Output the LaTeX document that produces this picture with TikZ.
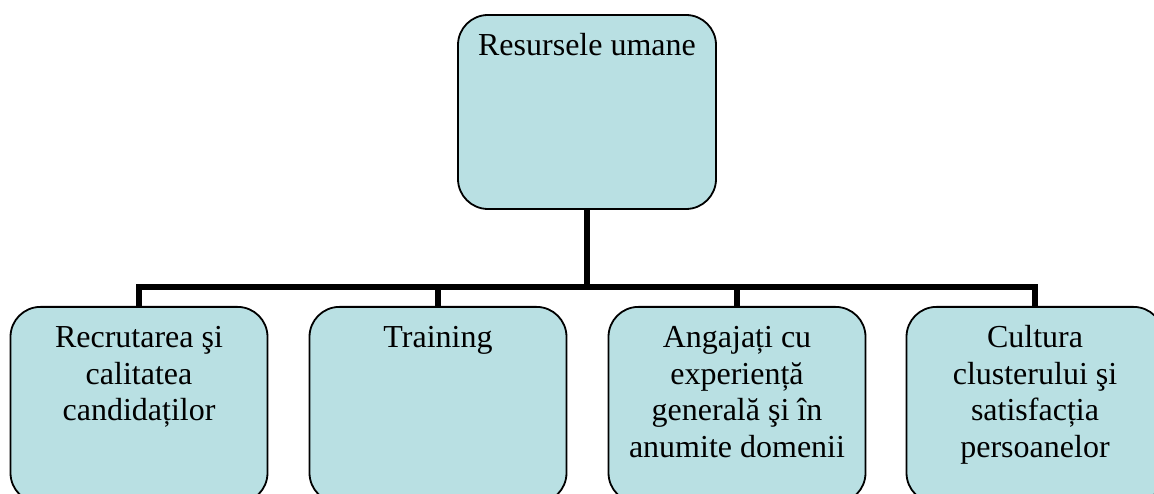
\documentclass[tikz,border=0pt]{standalone}
\usepackage{fontspec}
\setmainfont{Liberation Serif}
\definecolor{boxfill}{HTML}{B9E0E3}
\newcommand{\boxtext}[2][196pt]{\parbox[c][#1][t]{254pt}{\fontsize{32}{36.8}\selectfont\centering\vspace*{3.7pt}\hbox{}#2\par}}
\tikzset{
  box/.style={draw=black, line width=1.8pt, fill=boxfill, rounded corners=30pt,
    inner sep=0pt, minimum width=257pt, minimum height=196pt},
  conn/.style={draw=black, line width=6pt, line join=miter, line cap=butt}
}
\begin{document}
\begin{tikzpicture}[x=1pt,y=1pt]
\useasboundingbox (0,0) rectangle (1154,494);
\clip (0,0) rectangle (1154,494);
\fill[white] (0,0) rectangle (1154,494);
\coordinate (bus) at (0,207);
\node[box, minimum width=258pt, minimum height=194pt] (top) at (587,382) {\boxtext[194pt]{Resursele umane}};
\node[box, anchor=north] (b1) at (139,188) {\boxtext{Recrutarea şi\\calitatea\\candidaților}};
\node[box, anchor=north] (b2) at (438,188) {\boxtext{Training}};
\node[box, anchor=north] (b3) at (737,188) {\boxtext{Angajați cu\\experiență\\generală şi în\\anumite domenii}};
\node[box, anchor=north] (b4) at (1035,188) {\boxtext{Cultura\\clusterului şi\\satisfacția\\persoanelor}};
\draw[conn] (top.south) -- (top.south |- bus);
\draw[conn] (b1.north) -- (b1.north |- bus) -- (b4.north |- bus) -- (b4.north);
\draw[conn] (b2.north) -- (b2.north |- bus);
\draw[conn] (b3.north) -- (b3.north |- bus);
\end{tikzpicture}
\end{document}
